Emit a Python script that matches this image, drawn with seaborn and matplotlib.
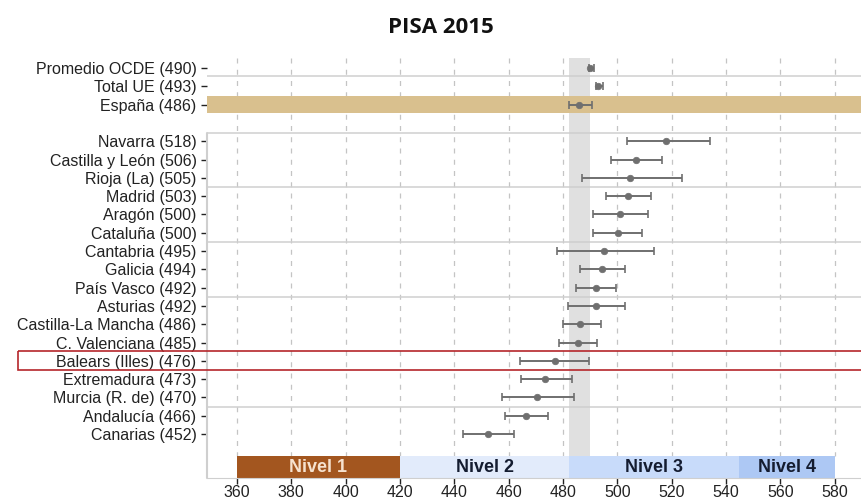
import numpy as np
import pandas as pd
import seaborn as sns
import matplotlib.pyplot as plt
from matplotlib.patches import Rectangle
from matplotlib.transforms import blended_transform_factory

# data (PISA 2015, means with confidence intervals)
top_labels = ["Promedio OCDE (490)", "Total UE (493)", "España (486)"]
top_mean = [490, 493, 486]
top_lo = [489.4, 492.2, 482.3]
top_hi = [491.4, 494.6, 490.6]

reg_labels = ["Navarra (518)", "Castilla y León (506)", "Rioja (La) (505)", "Madrid (503)",
              "Aragón (500)", "Cataluña (500)", "Cantabria (495)", "Galicia (494)",
              "País Vasco (492)", "Asturias (492)", "Castilla-La Mancha (486)",
              "C. Valenciana (485)", "Balears (Illes) (476)", "Extremadura (473)",
              "Murcia (R. de) (470)", "Andalucía (466)", "Canarias (452)"]
reg_mean = [518, 506.8, 504.8, 503.8, 500.9, 500.3, 494.9, 494.3, 492.1, 492.1,
            486.3, 485.6, 476.9, 473.5, 470.3, 466.4, 452.3]
reg_lo = [503.7, 497.6, 487.1, 495.9, 491.2, 491.2, 477.8, 486.1, 484.8, 481.7,
          480.1, 478.6, 464.1, 464.7, 457.4, 458.5, 443.1]
reg_hi = [534.0, 516.3, 523.9, 512.2, 511.2, 509.2, 513.6, 502.9, 499.5, 502.9,
          493.9, 492.5, 489.6, 483.3, 484.2, 474.3, 462.1]

levels = ["Nivel 1", "Nivel 2", "Nivel 3", "Nivel 4"]
level_lo = [360, 420.07, 482.38, 544.68]
level_hi = [420.07, 482.38, 544.68, 580]
level_colors = ["#a3561f", "#e2ebfb", "#c8dbfa", "#adc8f4"]
level_text = ["#f6e2cf", "#141c30", "#141c30", "#141c30"]

spain_band = (482.3, 490.0)

df = pd.DataFrame({
    "label": top_labels + reg_labels,
    "mean": top_mean + reg_mean,
    "lo": top_lo + reg_lo,
    "hi": top_hi + reg_hi,
    "pos": list(range(3)) + list(range(4, 4 + len(reg_labels))),
})

sns.set_style("white")
plt.rcParams["font.family"] = ["Liberation Sans", "DejaVu Sans"]

fig = plt.figure(figsize=(8.62, 5.03), dpi=100)
ax = fig.add_axes([0.2401, 0.0497, 0.7599, 0.835])

xmin, xmax = 349, 590
ytop, ybot = -0.55, 22.4
ax.set_xlim(xmin, xmax)
ax.set_ylim(ybot, ytop)

# dashed grid
for x in range(360, 581, 20):
    ax.plot([x, x], [ytop, 21.2], color="#c4c4c4", lw=0.9, ls=(0, (4, 5)), zorder=1)

# grey band (Spain CI)
ax.add_patch(Rectangle((spain_band[0], ytop), spain_band[1] - spain_band[0], 21.2 - ytop,
                       color="#e0e0e0", lw=0, zorder=1.5))

# Spain highlight row
ax.add_patch(Rectangle((xmin, 1.53), xmax - xmin, 0.95, color="#d9c08e", lw=0, zorder=2))

# separator lines
for yy in [0.45, 3.55, 6.5, 9.5, 12.5, 18.5]:
    ax.plot([xmin, xmax], [yy, yy], color="#cfcfcf", lw=1.1, zorder=1.8)
ax.plot([xmin, xmin], [3.55, ybot], color="#cfcfcf", lw=1.5, zorder=1.8, clip_on=False)

# level bars
for name, lo, hi, c, tc in zip(levels, level_lo, level_hi, level_colors, level_text):
    ax.add_patch(Rectangle((lo, 21.2), hi - lo, ybot - 21.2, color=c, lw=0, zorder=2))
    ax.text((lo + hi) / 2, 21.8, name, ha="center", va="center", fontsize=13,
            fontweight="bold", color=tc, zorder=3)

# error bars and points
ax.errorbar(df["mean"], df["pos"], xerr=[df["mean"] - df["lo"], df["hi"] - df["mean"]],
            fmt="none", ecolor="#6f6f6f", elinewidth=1.4, capsize=3, capthick=1.2, zorder=4)
sns.scatterplot(data=df, x="mean", y="pos", color="#6f6f6f", s=22, edgecolor="#6f6f6f",
                linewidth=0.5, ax=ax, zorder=5)

# Balears highlight box
tr = blended_transform_factory(ax.transAxes, ax.transData)
ax.add_patch(Rectangle((-0.2885, 15.45), 1.4, 1.05, transform=tr, fill=False,
                       edgecolor="#b5262b", lw=1.2, clip_on=False, zorder=6))

ax.set_yticks(df["pos"])
ax.set_yticklabels(df["label"], fontsize=11.5, color="#222222")
ax.set_xticks(range(360, 581, 20))
ax.tick_params(axis="x", labelsize=11.5, colors="#222222", length=4, width=1, pad=1,
               direction="out", bottom=True)
ax.tick_params(axis="y", length=4, width=1, direction="out", left=True, colors="#222222")
ax.set_xlabel("")
ax.set_ylabel("")

for s in ["top", "right", "left"]:
    ax.spines[s].set_visible(False)
ax.spines["bottom"].set_color("#cfcfcf")

fig.text(0.511, 0.945, "PISA 2015", ha="center", va="center", fontsize=16,
         fontweight="bold", family="Open Sans", color="#111111")

fig.savefig("out.png", dpi=100)
